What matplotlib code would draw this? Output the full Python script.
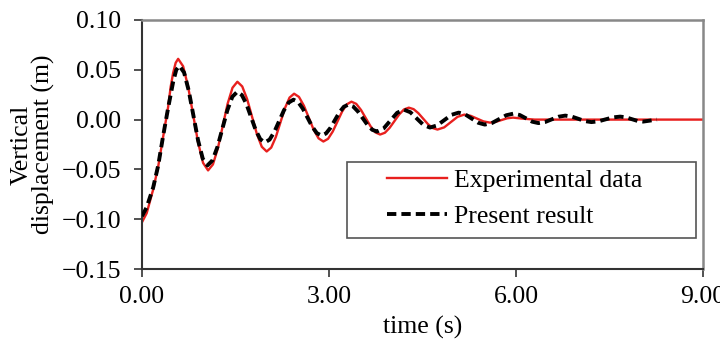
import matplotlib
matplotlib.use("Agg")
import matplotlib.pyplot as plt
from matplotlib.ticker import FuncFormatter
from matplotlib.patches import Rectangle

# ---------------- data ----------------
exp_t = [0.00, 0.075, 0.18, 0.26, 0.34, 0.42, 0.46, 0.50, 0.54, 0.58,
         0.66, 0.74, 0.82, 0.90, 0.98, 1.06,
         1.138, 1.217, 1.295, 1.373, 1.452, 1.53,
         1.608, 1.687, 1.765, 1.843, 1.922, 2.00,
         2.073, 2.147, 2.22, 2.293, 2.367, 2.44,
         2.518, 2.597, 2.675, 2.753, 2.832, 2.91,
         2.985, 3.06, 3.135, 3.21, 3.285, 3.36,
         3.437, 3.513, 3.59, 3.667, 3.743, 3.82,
         3.897, 3.973, 4.05, 4.127, 4.203, 4.28,
         4.357, 4.433, 4.51, 4.587, 4.663, 4.74,
         4.848, 4.955, 5.063, 5.17,
         5.273, 5.375, 5.478, 5.58,
         5.673, 5.765, 5.858, 5.95,
         6.10, 6.30, 9.00]
exp_v = [-0.103, -0.094, -0.070, -0.047, -0.017, 0.013, 0.033, 0.047, 0.057, 0.061,
         0.0535, 0.033, 0.005, -0.023, -0.0435, -0.051,
         -0.045, -0.0288, -0.0065, 0.0158, 0.032, 0.038,
         0.0333, 0.0205, 0.003, -0.0145, -0.0273, -0.032,
         -0.0281, -0.0175, -0.003, 0.0115, 0.0221, 0.026,
         0.0228, 0.014, 0.002, -0.010, -0.0188, -0.022,
         -0.0193, -0.012, -0.002, 0.008, 0.0153, 0.018,
         0.0158, 0.00975, 0.0015, -0.00675, -0.0128, -0.015,
         -0.0132, -0.00825, -0.0015, 0.00525, 0.0102, 0.012,
         0.0105, 0.0065, 0.001, -0.0045, -0.0085, -0.010,
         -0.0078, -0.0025, 0.0028, 0.005,
         0.0038, 0.001, -0.0018, -0.003,
         -0.0023, -0.0005, 0.0013, 0.002,
         0.001, 0.0, 0.0]

sim_t = [0.00, 0.075, 0.18, 0.26, 0.34, 0.42, 0.50, 0.55, 0.60,
         0.675, 0.75, 0.825, 0.90, 0.975, 1.05,
         1.13, 1.21, 1.29, 1.37, 1.45, 1.53,
         1.603, 1.677, 1.75, 1.823, 1.897, 1.97,
         2.047, 2.123, 2.20, 2.277, 2.353, 2.43,
         2.505, 2.58, 2.655, 2.73, 2.805, 2.88,
         2.952, 3.023, 3.095, 3.167, 3.238, 3.31,
         3.387, 3.463, 3.54, 3.617, 3.693, 3.77,
         3.878, 3.985, 4.093, 4.20,
         4.305, 4.41, 4.515, 4.62,
         4.735, 4.85, 4.965, 5.08,
         5.185, 5.29, 5.395, 5.50,
         5.615, 5.73, 5.845, 5.96,
         6.06, 6.16, 6.26, 6.36,
         6.468, 6.575, 6.683, 6.79,
         6.895, 7.00, 7.105, 7.21,
         7.325, 7.44, 7.555, 7.67,
         7.763, 7.855, 7.948, 8.04,
         8.15, 8.26]
sim_v = [-0.097, -0.088, -0.068, -0.046, -0.016, 0.012, 0.038, 0.050, 0.054,
         0.0473, 0.029, 0.004, -0.021, -0.0393, -0.046,
         -0.041, -0.0275, -0.009, 0.0095, 0.023, 0.028,
         0.0246, 0.0153, 0.0025, -0.0103, -0.0196, -0.023,
         -0.0201, -0.0123, -0.0015, 0.0093, 0.0171, 0.020,
         0.0176, 0.011, 0.002, -0.007, -0.0136, -0.016,
         -0.0139, -0.0083, -0.0005, 0.0073, 0.0129, 0.015,
         0.0132, 0.00825, 0.0015, -0.00525, -0.0102, -0.012,
         -0.0088, -0.001, 0.0068, 0.010,
         0.0074, 0.001, -0.0054, -0.008,
         -0.0058, -0.0005, 0.0048, 0.007,
         0.0052, 0.001, -0.0032, -0.005,
         -0.0034, 0.0005, 0.0044, 0.006,
         0.0046, 0.0013, -0.0021, -0.0035,
         -0.0024, 0.0003, 0.0029, 0.004,
         0.0030, 0.0008, -0.0015, -0.0025,
         -0.0017, 0.0003, 0.0022, 0.003,
         0.0023, 0.0005, -0.0013, -0.002,
         -0.001, 0.0]

x_ticks = [0.0, 3.0, 6.0, 9.0]
y_ticks = [-0.15, -0.10, -0.05, 0.00, 0.05, 0.10]
series_labels = ["Experimental data", "Present result"]
x_label = "time (s)"
y_label = "Vertical\ndisplacement (m)"

# ---------------- style ----------------
plt.rcParams['font.family'] = ['Liberation Serif', 'DejaVu Serif']
FS = 18.5

fig = plt.figure(figsize=(7.2, 3.45), dpi=100)
ax = fig.add_axes([142/720, 1-269/345, (703-142)/720, (269-20)/345])

l1, = ax.plot(exp_t, exp_v, color='#e8201e', lw=1.7, zorder=2)
l2, = ax.plot(sim_t, sim_v, color='black', lw=2.8, linestyle=(0, (2.4, 1.3)), zorder=3)

ax.set_xlim(0, 9)
ax.set_ylim(-0.15, 0.10)
ax.set_xticks(x_ticks)
ax.set_yticks(y_ticks)
fmt = FuncFormatter(lambda v, p: ("%.2f" % v).replace('-', '\u2212'))
ax.xaxis.set_major_formatter(fmt)
ax.yaxis.set_major_formatter(fmt)
ax.tick_params(axis='both', direction='out', length=6, width=1.2,
               labelsize=FS, color='#333333')
ax.tick_params(axis='y', pad=9)
ax.tick_params(axis='x', pad=6)

for s in ['left', 'bottom']:
    ax.spines[s].set_color('#333333')
    ax.spines[s].set_linewidth(1.5)
for s in ['top', 'right']:
    ax.spines[s].set_color('#888888')
    ax.spines[s].set_linewidth(1.8)

ax.set_xlabel(x_label, fontsize=FS, labelpad=6)
ax.set_ylabel(y_label, fontsize=FS, labelpad=5, linespacing=0.95)

# legend frame drawn separately, legend content inside
ax.add_patch(Rectangle(((346.7-142)/561, (269-238.3)/249), 349/561, 76.6/249,
                       transform=ax.transAxes, fill=True, facecolor='white',
                       edgecolor='#555555', lw=1.2, zorder=4))
leg = ax.legend([l1, l2], series_labels, loc='upper left',
                bbox_to_anchor=((386.7-142)/561, (269-169)/249),
                frameon=False, fontsize=FS, borderpad=0, borderaxespad=0,
                handlelength=2.35, handletextpad=0.25, labelspacing=0.5)
leg.set_zorder(5)

fig.savefig("out.png", dpi=100)
